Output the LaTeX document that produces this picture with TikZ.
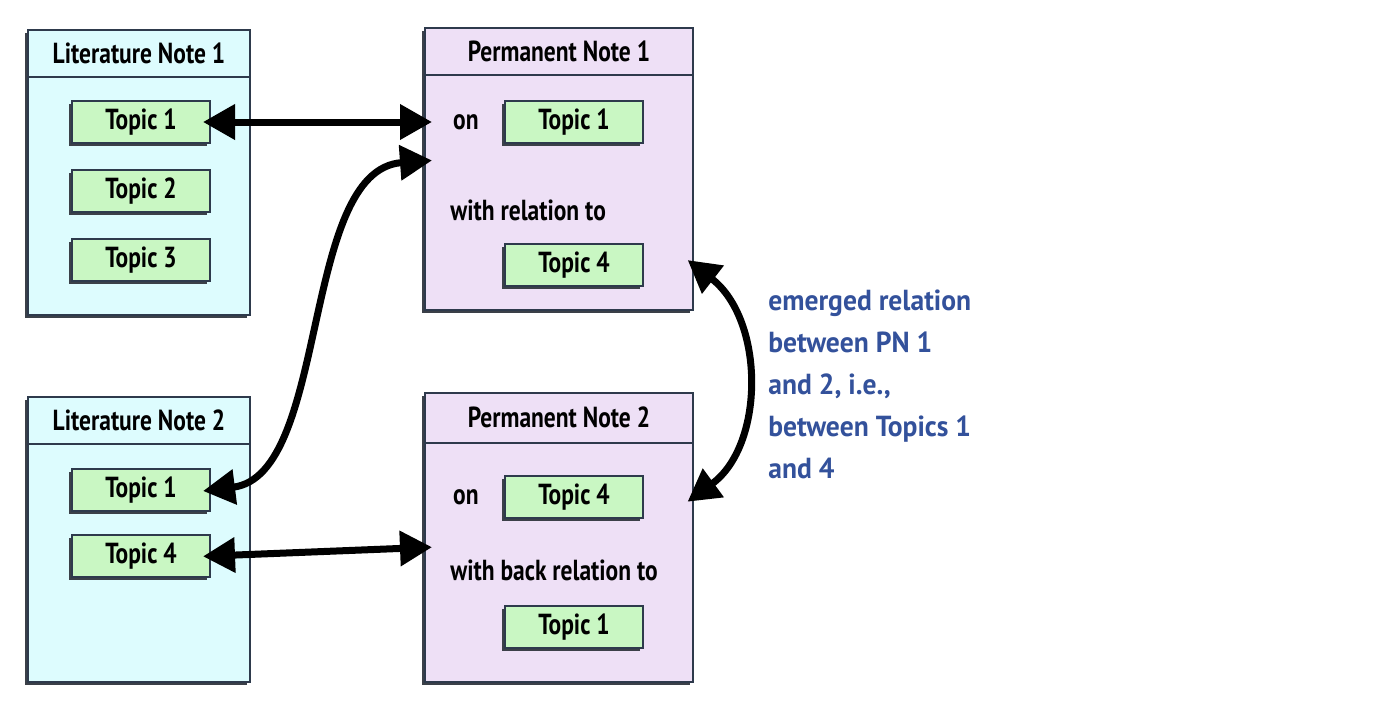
\documentclass[tikz,border=0pt]{standalone}
\usepackage{fontspec}
\setmainfont{PT Sans}[FakeStretch=0.81]
\newfontfamily\remarkfont{PT Sans}[FakeStretch=0.95]
\usetikzlibrary{arrows.meta, positioning, calc, shadows}
\definecolor{litcyan}{HTML}{DDFCFE}
\definecolor{permlilac}{HTML}{EEE0F6}
\definecolor{topicgreen}{HTML}{C9F7C3}
\definecolor{frameslate}{HTML}{2E3A4C}
\definecolor{shadowgrey}{HTML}{3B4048}
\definecolor{remarkblue}{HTML}{33519B}
\newcommand\notefont{\fontsize{14.5}{17}\selectfont\bfseries}
\tikzset{
	notebox/.style={rectangle, draw=frameslate, line width=1pt, minimum width=111pt, drop shadow={shadow xshift=-1.5pt, shadow yshift=-1.5pt, fill=shadowgrey, opacity=1}},
	headtext/.style={rectangle, minimum height=23.5pt, inner sep=0pt, font=\notefont},
	divider/.style={draw=frameslate, line width=1pt},
	topic/.style={rectangle, draw=frameslate, line width=1pt, fill=topicgreen, minimum width=69pt, minimum height=21pt, font=\notefont, drop shadow={shadow xshift=-1.5pt, shadow yshift=-1.5pt, fill=shadowgrey, opacity=1}},
	plaintext/.style={inner sep=0pt, font=\notefont},
	remark/.style={inner sep=0pt, align=left, text=remarkblue, font=\remarkfont\fontsize{14.5}{21}\selectfont\bfseries},
	conn/.style={line width=3.5pt, shorten <=-4pt, shorten >=-4pt, {Triangle[length=16pt,width=17pt]}-{Triangle[length=16pt,width=17pt]}}
}
\begin{document}
\begin{tikzpicture}[x=0.5pt, y=-0.5pt]
	\useasboundingbox (0,0) rectangle (1373,707);

	% Literature Note 1
	\node (ln1) [notebox, fill=litcyan, minimum height=142.5pt] at (139,172.5) {};
	\node (ln1h) [headtext, below=0pt of ln1.north] {Literature Note 1};
	\draw [divider] (ln1.west |- ln1h.south) -- (ln1.east |- ln1h.south);
	\node (ln1t1) [topic] at (141,122) {Topic 1};
	\node (ln1t2) [topic, below=12.5pt of ln1t1] {Topic 2};
	\node (ln1t3) [topic, below=12.5pt of ln1t2] {Topic 3};

	% Permanent Note 1
	\node (pn1) [notebox, fill=permlilac, minimum width=134pt, minimum height=141pt] at (559,169) {};
	\node (pn1h) [headtext, below=0pt of pn1.north] {Permanent Note 1};
	\draw [divider] (pn1.west |- pn1h.south) -- (pn1.east |- pn1h.south);
	\node (pn1t1) [topic] at (574,122) {Topic 1};
	\node (pn1on) [plaintext, left=12.5pt of pn1t1] {on};
	\node (pn1rel) [plaintext, anchor=west] at (450,210) {with relation to};
	\node (pn1t4) [topic] at (574,265) {Topic 4};

	% Literature Note 2
	\node (ln2) [notebox, fill=litcyan, minimum height=142.5pt] at (139,539.5) {};
	\node (ln2h) [headtext, below=0pt of ln2.north] {Literature Note 2};
	\draw [divider] (ln2.west |- ln2h.south) -- (ln2.east |- ln2h.south);
	\node (ln2t1) [topic] at (141,490) {Topic 1};
	\node (ln2t4) [topic, below=11pt of ln2t1] {Topic 4};

	% Permanent Note 2
	\node (pn2) [notebox, fill=permlilac, minimum width=134pt, minimum height=144.5pt] at (559,537.5) {};
	\node (pn2h) [headtext, below=0pt of pn2.north, minimum height=25pt] {Permanent Note 2};
	\draw [divider] (pn2.west |- pn2h.south) -- (pn2.east |- pn2h.south);
	\node (pn2t4) [topic] at (574,497) {Topic 4};
	\node (pn2on) [plaintext, left=12.5pt of pn2t4] {on};
	\node (pn2rel) [plaintext, anchor=west] at (450,570) {with back relation to};
	\node (pn2t1) [topic] at (574,627) {Topic 1};

	% Links
	\draw [conn] (ln1t1.east) -- (pn1.west |- ln1t1.east);
	\draw [conn] (ln2t1.east) .. controls (330,475) and (300,170) .. ([yshift=4pt]pn1.west);
	\draw [conn] (ln2t4.east) -- ([yshift=-5pt]pn2.west);
	\draw [conn] (pn1.east |- pn1t4.east) .. controls (765,320) and (765,445) .. (pn2.east |- pn2t4.east);

	\node (emerged) [remark, anchor=north west] at (768,289) {emerged relation\\between PN 1\\and 2, i.e.,\\between Topics 1\\and 4};
\end{tikzpicture}
\end{document}
